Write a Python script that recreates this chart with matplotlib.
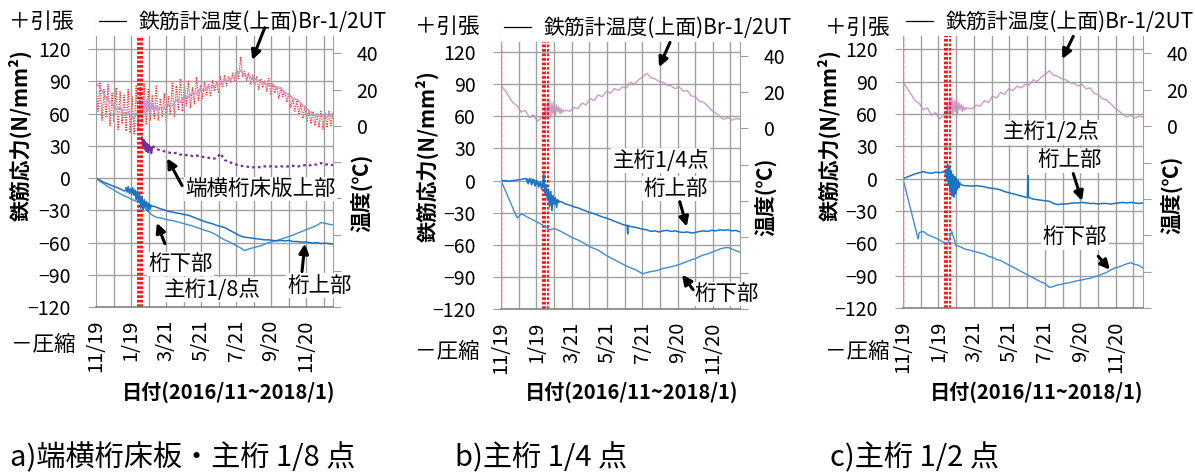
import numpy as np
import matplotlib
matplotlib.use('Agg')
import matplotlib.pyplot as plt
from matplotlib.lines import Line2D

plt.rcParams['font.family'] = ['Noto Sans CJK JP', 'DejaVu Sans']

# --- measurement data (days counted from 2016/11/19) ---
week = np.arange(0, 414, 7)

date_ticks = [0, 61, 122, 183, 244, 305, 366]
date_labels = ['11/19', '1/19', '3/21', '5/21', '7/21', '9/20', '11/20']
stress_ticks = [-120, -90, -60, -30, 0, 30, 60, 90, 120]
temp_ticks = [-100, -80, -60, -40, -20, 0, 20, 40, 60]
temp_labels = ['', '', '', '', '', '0', '20', '40', '']
event_days = [72.5, 76.5, 80.5]

# rebar gauge temperature Br-1/2UT (deg C), weekly
temp = [23.7, 21.0, 17.5, 14.0, 12.5, 9.0, 10.0, 6.0, 7.5, 4.0,
        6.0, 9.5, 10.5, 8.5, 11.0, 9.0, 10.0, 9.5, 11.5, 11.0,
        14.0, 13.0, 16.5, 15.5, 18.5, 17.5, 20.5, 19.5, 22.0, 21.0,
        23.0, 22.5, 25.5, 24.5, 27.0, 28.5, 30.5, 28.0, 27.5, 26.0,
        25.5, 24.0, 23.5, 22.0, 23.0, 20.5, 21.0, 18.0, 17.5, 15.0,
        14.5, 12.5, 10.0, 8.5, 6.5, 5.0, 6.0, 4.5, 5.5, 5.0]
temp_burst_days = [74, 76, 78, 80, 82, 84, 86, 88, 90, 92, 94, 96, 98, 100, 102, 104, 106, 108]
temp_burst = [6, 13, 5, 15, 7, 16, 6, 14, 8, 15, 7, 13, 9, 12, 8, 11, 9, 10]

# daily high / low of the second temperature gauge (panel a)
air_hi = [22, 24, 20, 23, 18, 21, 19, 17, 20, 16,
          22, 21, 23, 20, 17, 22, 15, 18, 16, 24,
          22, 26, 23, 25, 21, 27, 22, 24, 23, 25,
          24, 27, 28, 27, 29, 31, 38, 30, 29, 28,
          27, 26, 25, 26, 23, 22, 21, 19, 18, 15,
          14, 12, 11, 9, 8, 7, 8, 7, 8, 7]
air_lo = [8, 3, 5, 0, 2, -2, 1, -3, -4, -5,
          -2, 2, 1, 3, 4, 3, 5, 2, 6, 5,
          9, 8, 11, 10, 12, 14, 15, 17, 16, 19,
          18, 21, 22, 24, 25, 26, 27, 25, 23, 22,
          20, 21, 19, 17, 18, 15, 16, 13, 10, 8,
          6, 4, 2, 1, 0, -1, -2, -1, 0, 1]

# panel a: end cross beam slab top (N/mm2), from day 84
slab = [33, 28, 30, 27, 26, 25, 24, 23, 23.5, 22,
        21, 22, 20.5, 21, 20, 19.5, 19, 18, 18.5, 23,
        17, 15, 14, 12.5, 11.5, 11, 10.5, 10, 10.5, 10,
        11, 10.5, 11.5, 10.5, 11, 10.5, 11, 11.5, 10.5, 11.5,
        12, 11.5, 13, 12.5, 14, 12.5, 13, 12]
slab_burst_days = [80, 81.5, 83, 84.5, 86, 87.5, 89, 90.5, 92, 93.5, 95, 96.5, 98]
slab_burst = [38, 30, 36, 27, 34, 25, 32, 24, 31, 26, 29, 23, 28]

# panel a: main girder 1/8 point
top_a = [0, -2, -4, -5.5, -7, -8.5, -10, -12, -10, -13,
         -16, -19.5, -22, -24, -26, -27, -28.5, -29.5, -31, -31.5,
         -32.5, -33, -34, -34.5, -36, -37.5, -39, -40.5, -41.5, -42.5,
         -44, -45, -46, -48, -50, -52, -54, -55, -55.5, -56,
         -56.5, -57, -57.5, -57.5, -58, -58.5, -58, -58.5, -58, -59,
         -59, -59.5, -59.5, -60, -60.5, -60, -61, -60.5, -61, -61.5]
bot_a = [0, -3, -5.5, -8, -10, -12.5, -14.5, -16.5, -18, -20,
         -21.5, -23, -27, -31, -34.5, -36.5, -37, -38, -39, -39.5,
         -40.5, -41.5, -42.5, -43.5, -44.5, -46, -47, -48.5, -49.5, -51,
         -53, -55.5, -57.5, -59, -61, -63, -65, -67.5, -66, -65,
         -64, -63, -61.5, -60, -59, -58, -57, -55.5, -54.5, -53,
         -51.5, -50, -48.5, -47, -45.5, -44, -41.5, -42, -43, -43.5]
burst_a_days = [52, 54, 56, 58, 60, 62, 64, 66, 68, 70, 72, 74, 76, 78, 80, 82, 84, 86, 88, 90, 92, 94, 96]
burst_a = [-9, -13, -8, -14, -10, -15, -9, -16, -11, -20, -12, -22, -15, -28, -17, -30, -20, -27, -22, -31, -24, -29, -26]

# panel b: main girder 1/4 point
top_b = [0, 0, -0.5, 0, 0.5, 1, 2, 0, 1, -2,
         -4, -8, -13, -17, -19, -20, -22, -23, -24.5, -25.5,
         -27, -28.5, -30, -31, -32.5, -34, -35, -36.5, -38, -39.5,
         -41, -42, -43, -43.5, -44.5, -45.5, -46, -47.5, -47, -48,
         -47, -46.5, -47.5, -47, -48, -48.5, -48, -49, -48.5, -47.5,
         -47, -47.5, -46.5, -47, -46, -46.5, -46, -47, -46.5, -48]
bot_b = [0,
         -35, -31, -33, -35, -37, -39, -41, -43, -46, -45,
         -46, -48, -50, -52, -54, -55.5, -57.5, -59.5, -62, -63.5,
         -65, -67.5, -70, -72, -74, -76, -78, -80, -81.5, -83,
         -85, -87, -86, -85, -84.5, -83.5, -82, -81.5, -80.5, -79.5,
         -78.5, -77, -75.5, -74, -73, -71, -69.5, -68.5, -67, -65.5,
         -64, -63, -62.5, -64, -65.5, -67]
burst_b_days = [44, 47, 50, 53, 56, 59, 62, 65, 68, 70, 72, 74, 76, 78, 80, 82, 84, 86, 88, 90, 92, 94, 96, 98, 100]
burst_b = [1, -3, 2, -4, 1, -5, 0, -6, -1, -8, -3, 6, -12, -4, -18, -8, -24, -10, -28, -14, -22, -16, -25, -18, -20]
spike_b_days = [218, 219, 220]
spike_b = [-42, -50, -42]

# panel c: main girder 1/2 point
top_c = [0, 1.5, 3, 4.5, 5.5, 6.5, 5.5, 5, 6, 5.5,
         6.5, 4, -4, -6, -5, -6.5, -6.5, -7, -6.5, -7,
         -7.5, -8.5, -9, -9.5, -10.5, -12, -13, -14, -15, -16,
         -17, -17.5, -19, -19.5, -20, -20.5, -21, -23, -24, -23.5,
         -23.5, -23, -22.5, -22.5, -22, -22.5, -23, -23, -23.5, -23,
         -23, -23.5, -23, -22.5, -22, -22.5, -22, -22.5, -23, -22.5]
bot_c = [0, -56,
         -50, -49, -52, -53.5, -55, -57, -59, -60, -49, -62,
         -63, -65, -66, -67, -68, -69, -70, -72, -73, -75,
         -76, -78, -80, -82, -84, -86, -88, -90, -92, -94,
         -96, -97.5, -101, -100, -98.5, -98, -97, -96.5, -95.5, -94.5,
         -94, -93, -92.5, -91, -90, -88.5, -87, -85, -83, -82,
         -80.5, -79, -78, -79.5, -80.5, -83]
burst_c_days = [74, 75.5, 77, 78.5, 80, 81.5, 83, 84.5, 86, 87.5, 89, 90.5, 92, 93.5, 95, 96.5, 98]
burst_c = [8, -2, 13, -6, 10, -12, 7, -16, 4, -17, 2, -14, 0, -10, -2, -8, -4]
spike_c_days = [214, 215, 216]
spike_c = [-16, 3, -17]

W, H = 1195, 472
GRID = '#a0a0a0'
PINK = '#cf9acb'
BLUE_TOP = '#1a74c2'
BLUE_BOT = '#3d8fd6'
ARROW = dict(arrowstyle='-|>', color='black', lw=2.2, mutation_scale=14, shrinkA=0, shrinkB=0)

fig = plt.figure(figsize=(W / 100, H / 100), dpi=100)


def fx(x):
    return x / W


def fy(y):
    return 1 - y / H


def panel(x0, x1, ytop, ybot, left_red):
    ax = fig.add_axes([fx(x0), fy(ybot), (x1 - x0) / W, (ybot - ytop) / H])
    ax2 = ax.twinx()
    ax.set_zorder(ax2.get_zorder() + 1)
    ax.patch.set_visible(False)

    ax.set_xlim(0, 413)
    ax.set_ylim(-120, 150)
    ax2.set_ylim(-100, 60)

    ax.set_yticks(stress_ticks)
    ax.tick_params(axis='y', direction='out', length=6, color=GRID, labelsize=14, pad=12)
    ax.set_xticks(date_ticks)
    ax.set_xticklabels(date_labels, rotation=90, fontsize=14.5)
    ax.tick_params(axis='x', length=0, pad=9)
    ax2.set_yticks(temp_ticks)
    ax2.set_yticklabels(temp_labels, fontsize=14)
    ax2.tick_params(axis='y', direction='out', length=6, color=GRID, pad=11)

    for y in stress_ticks[1:]:
        ax.axhline(y, color=GRID, lw=1, zorder=0)
    for d in np.arange(30.5, 413, 30.5):
        ax.axvline(d, color=GRID, lw=1, zorder=0)
    for s in ['top', 'right']:
        ax.spines[s].set_visible(False)
    for s in ['top', 'left', 'bottom']:
        ax2.spines[s].set_visible(False)
    ax.spines['left'].set_color(GRID)
    ax.spines['bottom'].set_color('#808080')
    ax.spines['bottom'].set_linewidth(1.2)
    ax2.spines['right'].set_color(GRID)

    for d in event_days:
        ax.axvline(d, color='red', lw=1.3, ls=(0, (1.5, 1)), zorder=1)
    if left_red:
        ax.axvline(0.6, color='red', lw=1.0, ls=(0, (3, 1)), zorder=1)

    ax2.plot(week, temp, color=PINK, lw=1.0)
    ax2.plot(temp_burst_days, temp_burst, color=PINK, lw=1.0)
    return ax, ax2


def labels(ax, x0, x1, leg_y, plus, minus, ylab, rlab, xlab_x):
    fig.text(fx(plus[0]), fy(plus[1]), '＋引張', ha='right', va='center', fontsize=15.5)
    fig.text(fx(minus[0]), fy(minus[1]), '－圧縮', ha='right', va='center', fontsize=15.5)
    fig.text(fx(ylab[0]), fy(ylab[1]), '鉄筋応力(N/mm²)', rotation=90, ha='center', va='center',
             fontsize=15, fontweight='bold')
    fig.text(fx(rlab[0]), fy(rlab[1]), '温度(℃)', rotation=90, ha='center', va='center',
             fontsize=15, fontweight='bold')
    fig.text(fx(xlab_x), fy(392), '日付(2016/11~2018/1)', ha='center', va='center',
             fontsize=14.5, fontweight='bold')
    ax.legend(handles=[Line2D([], [], color='black', lw=0.9)], labels=['鉄筋計温度(上面)Br-1/2UT'],
              loc='center left', bbox_to_anchor=(fx(x0), fy(leg_y)), bbox_transform=fig.transFigure,
              frameon=True, facecolor='white', edgecolor='none', framealpha=1, fancybox=False,
              fontsize=15, handlelength=1.3, handletextpad=0.6, borderpad=0.15, borderaxespad=0)


def note(ax, text, xy):
    ax.text(xy[0], xy[1], text, ha='center', va='center', fontsize=15.5, zorder=6,
            bbox=dict(facecolor='white', edgecolor='none', pad=1))


def arrow(ax, tail, head):
    ax.annotate('', xy=head, xytext=tail, arrowprops=ARROW, zorder=7)


# a) end cross beam slab / main girder 1/8 point
ax, ax2 = panel(96, 333, 17, 307, False)
zig_days = np.column_stack((week, week + 3.5)).ravel()
zig_vals = np.column_stack((air_hi, air_lo)).ravel()
ax2.plot(zig_days, zig_vals, color='#ff3030', lw=0.9, ls=(0, (1, 1)), zorder=1)
ax2.plot(week, temp, color=PINK, lw=1.1, zorder=2)
ax.plot(week[12:], slab, color='#7030a0', lw=1.6, ls=(0, (1.2, 1.4)))
ax.plot(slab_burst_days, slab_burst, color='#7030a0', lw=1.3)
ax.plot(week, bot_a, color=BLUE_BOT, lw=1.0)
ax.plot(week, top_a, color=BLUE_TOP, lw=1.1)
ax.plot(burst_a_days, burst_a, color=BLUE_TOP, lw=1.2)
labels(ax, 96, 333, 22, (73, 22), (75, 345), (20, 135), (362, 193), 229)
arrow(ax, (294, 140), (272, 110))
note(ax, '端横桁床版上部', (286, -10))
arrow(ax, (150, -7), (124, 18.5))
note(ax, '桁下部', (148, -80))
arrow(ax, (120, -61), (106, -41.7))
note(ax, '主桁1/8点', (202, -104))
note(ax, '桁上部', (390, -100))
arrow(ax, (359, -87), (364, -61))

# b) main girder 1/4 point
ax, ax2 = panel(501, 740, 20, 309, True)
ax.plot(np.r_[0, week[4:]], bot_b, color=BLUE_BOT, lw=1.0)
ax.plot(week, top_b, color=BLUE_TOP, lw=1.1)
ax.plot(burst_b_days, burst_b, color=BLUE_TOP, lw=1.2)
ax.plot(spike_b_days, spike_b, color=BLUE_TOP, lw=1.0)
labels(ax, 501, 740, 28, (479, 27), (480, 352), (427, 156), (766, 197), 632)
arrow(ax, (292, 129), (273, 106))
note(ax, '主桁1/4点', (276, 18.75))
note(ax, '桁上部', (302, -7.5))
arrow(ax, (309, -19.7), (321, -43))
note(ax, '桁下部', (390, -106))
arrow(ax, (332, -102), (313, -88))

# c) main girder 1/2 point
ax, ax2 = panel(903, 1143, 17, 308, True)
ax.plot(np.r_[0, 26, week[4:]], bot_c, color=BLUE_BOT, lw=1.0)
ax.plot(week, top_c, color=BLUE_TOP, lw=1.1)
ax.plot(burst_c_days, burst_c, color=BLUE_TOP, lw=1.2)
ax.plot(spike_c_days, spike_c, color=BLUE_TOP, lw=1.0)
labels(ax, 903, 1143, 22, (889, 28), (889, 352), (829, 135), (1172, 195), 1037)
arrow(ax, (293, 132), (274, 111))
note(ax, '主桁1/2点', (255, 43))
note(ax, '桁上部', (287, 17))
arrow(ax, (293, 4.7), (308, -20.7))
note(ax, '桁下部', (296, -54.5))
arrow(ax, (336, -72), (356, -84.5))

# captions
fig.text(fx(10), fy(458), 'a)端横桁床板・主桁 1/8 点', ha='left', va='center', fontsize=21)
fig.text(fx(455), fy(458), 'b)主桁 1/4 点', ha='left', va='center', fontsize=21)
fig.text(fx(830), fy(458), 'c)主桁 1/2 点', ha='left', va='center', fontsize=21)

fig.savefig('out.png', dpi=100)
